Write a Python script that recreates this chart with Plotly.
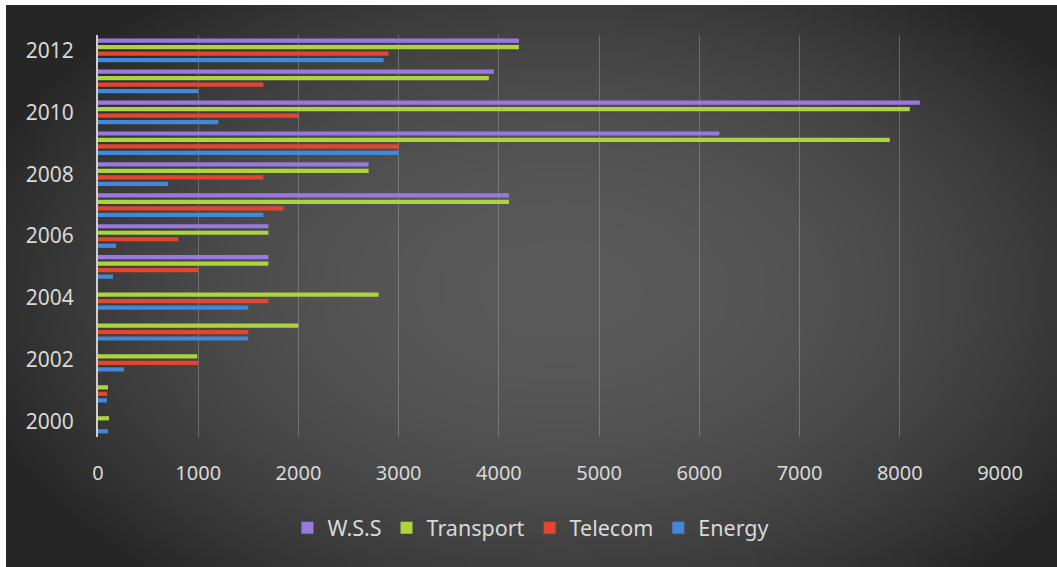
import base64
import struct
import zlib

import plotly.graph_objects as go

# ---- data -------------------------------------------------------------
years = list(range(2000, 2013))
energy = [100, 90, 260, 1500, 1500, 150, 180, 1650, 700, 3000, 1200, 1000, 2850]
telecom = [0, 90, 1000, 1500, 1700, 1000, 800, 1850, 1650, 3000, 2000, 1650, 2900]
transport = [110, 100, 990, 2000, 2800, 1700, 1700, 4100, 2700, 7900, 8100, 3900, 4200]
wss = [0, 0, 0, 0, 0, 1700, 1700, 4100, 2700, 6200, 8200, 3950, 4200]

series = [
    ("Energy", energy, "#4287d8"),
    ("Telecom", telecom, "#e3452f"),
    ("Transport", transport, "#add43f"),
    ("W.S.S", wss, "#9a78de"),
]

# ---- page geometry (pixels) -------------------------------------------
W, H = 1057, 567
L, R, T, B = 98, 57, 35, 130
plot_w, plot_h = W - L - R, H - T - B
panel_x0, panel_y0 = 6, 5  # dark panel inset from the white page edge


# ---- radial grey gradient for the dark panel --------------------------
def gradient_png(w, h):
    rows = []
    for j in range(h):
        py = panel_y0 + (H - panel_y0) * (j + 0.5) / h
        row = bytearray()
        for i in range(w):
            px = panel_x0 + (W - panel_x0) * (i + 0.5) / w
            d2 = ((px - 560) / 580) ** 2 + ((py - 290) / 360) ** 2
            v = max(38, 90 - 46 * d2)
            row.append(int(v))
        rows.append(b"\x00" + bytes(row))
    raw = b"".join(rows)

    def chunk(tag, data):
        c = struct.pack(">I", len(data)) + tag + data
        return c + struct.pack(">I", zlib.crc32(tag + data) & 0xFFFFFFFF)

    png = b"\x89PNG\r\n\x1a\n"
    png += chunk(b"IHDR", struct.pack(">IIBBBBB", w, h, 8, 0, 0, 0, 0))
    png += chunk(b"IDAT", zlib.compress(raw, 9))
    png += chunk(b"IEND", b"")
    return "data:image/png;base64," + base64.b64encode(png).decode()


bg_src = gradient_png(210, 112)

fig = go.Figure()
for name, vals, color in series:
    fig.add_trace(
        go.Bar(
            y=years,
            x=vals,
            name=name,
            orientation="h",
            marker=dict(color=color, line=dict(width=0)),
        )
    )

text_color = "#d9d9d9"
font_family = "Noto Sans, Open Sans, sans-serif"

fig.update_layout(
    width=W,
    height=H,
    margin=dict(l=L, r=R, t=T, b=B),
    paper_bgcolor="white",
    plot_bgcolor="rgba(0,0,0,0)",
    barmode="group",
    bargap=0.16,
    bargroupgap=0.35,
    font=dict(family=font_family, color=text_color, size=20),
    showlegend=True,
    legend=dict(
        orientation="h",
        x=0.48,
        xanchor="center",
        y=-0.226,
        yanchor="middle",
        traceorder="reversed",
        font=dict(size=21.5, color=text_color),
        bgcolor="rgba(0,0,0,0)",
        itemwidth=30,
    ),
    xaxis=dict(
        range=[0, 9000],
        dtick=1000,
        tick0=0,
        showgrid=True,
        gridcolor="rgba(190,190,190,0.35)",
        gridwidth=1,
        zeroline=False,
        showline=False,
        ticks="",
        ticklabelstandoff=22,
        tickfont=dict(size=20, color=text_color),
        fixedrange=True,
    ),
    yaxis=dict(
        range=[1999.5, 2012.5],
        tickvals=[2000, 2002, 2004, 2006, 2008, 2010, 2012],
        showgrid=False,
        zeroline=False,
        showline=True,
        linecolor="#cfcfcf",
        linewidth=2,
        ticks="",
        ticklabelstandoff=18,
        tickfont=dict(size=21, color=text_color),
        fixedrange=True,
    ),
    images=[
        dict(
            source=bg_src,
            xref="paper",
            yref="paper",
            x=(panel_x0 - L) / plot_w,
            y=(H - B - panel_y0) / plot_h,
            sizex=(W - panel_x0) / plot_w,
            sizey=(H - panel_y0) / plot_h,
            xanchor="left",
            yanchor="top",
            sizing="stretch",
            layer="below",
        )
    ],
)

fig.write_html("out.html")
